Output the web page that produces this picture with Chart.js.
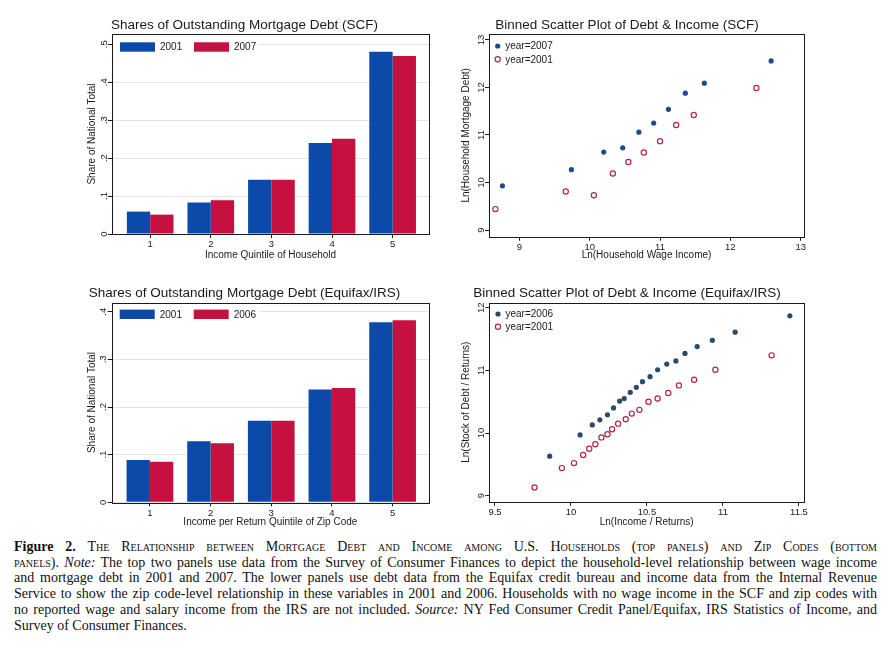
<!DOCTYPE html>
<html>
<head>
<meta charset="utf-8">
<script src="https://cdn.jsdelivr.net/npm/chart.js@4.4.0/dist/chart.umd.min.js"></script>
<style>
  body { margin: 0; background: #fff; width: 889px; height: 648px; overflow: hidden; position: relative; }
  canvas.panel { position: absolute; }
  #caption { position: absolute; left: 14px; top: 539px; width: 863px; color: #111;
    font: 14px/15.7px "Liberation Serif", "Times New Roman", serif; }
  #caption div { text-align: justify; text-align-last: justify; }
  #caption div.last { text-align-last: left; }
  .sc { font-variant: small-caps; }
</style>
</head>
<body>
<canvas class="panel" id="scf-bars" width="380" height="260" style="left:60px;top:10px"></canvas>
<canvas class="panel" id="scf-scatter" width="370" height="260" style="left:450px;top:10px"></canvas>
<canvas class="panel" id="zip-bars" width="380" height="250" style="left:60px;top:280px"></canvas>
<canvas class="panel" id="zip-scatter" width="370" height="250" style="left:450px;top:280px"></canvas>

<div id="caption">
  <div><b>Figure 2.</b> <span class="sc">The Relationship between Mortgage Debt and Income among U.S. Households (top panels) and Zip Codes (bottom</span></div>
  <div><span class="sc">panels)</span>. <i>Note:</i> The top two panels use data from the Survey of Consumer Finances to depict the household-level relationship between wage income</div>
  <div>and mortgage debt in 2001 and 2007. The lower panels use debt data from the Equifax credit bureau and income data from the Internal Revenue</div>
  <div>Service to show the zip code-level relationship in these variables in 2001 and 2006. Households with no wage income in the SCF and zip codes with</div>
  <div>no reported wage and salary income from the IRS are not included. <i>Source:</i> NY Fed Consumer Credit Panel/Equifax, IRS Statistics of Income, and</div>
  <div class="last">Survey of Consumer Finances.</div>
</div>

<script>
// quintile bars
const quintiles = [1, 2, 3, 4, 5];
const scfShare2001 = [0.059, 0.083, 0.143, 0.240, 0.480];
const scfShare2007 = [0.051, 0.089, 0.143, 0.251, 0.469];
const scfShareTicks = [0, 0.1, 0.2, 0.3, 0.4, 0.5];

const zipShare2001 = [0.089, 0.128, 0.171, 0.237, 0.378];
const zipShare2006 = [0.085, 0.124, 0.171, 0.240, 0.382];
const zipShareTicks = [0, 0.1, 0.2, 0.3, 0.4];

// binned scatter, SCF households
const scfIncome2007 = [8.76, 9.74, 10.20, 10.47, 10.70, 10.91, 11.12, 11.36, 11.63, 12.58];
const scfDebt2007   = [9.93, 10.27, 10.64, 10.73, 11.06, 11.25, 11.54, 11.88, 12.09, 12.56];
const scfIncome2001 = [8.66, 9.66, 10.06, 10.33, 10.55, 10.77, 11.00, 11.23, 11.48, 12.37];
const scfDebt2001   = [9.44, 9.81, 9.73, 10.19, 10.43, 10.63, 10.87, 11.21, 11.42, 11.99];
const scfIncomeTicks = [9, 10, 11, 12, 13];
const scfDebtTicks = [9, 10, 11, 12, 13];

// binned scatter, zip codes
const zipIncome2006 = [9.86, 10.06, 10.14, 10.19, 10.24, 10.28, 10.32, 10.35, 10.39, 10.43,
                       10.47, 10.52, 10.57, 10.63, 10.69, 10.75, 10.83, 10.93, 11.08, 11.44];
const zipDebt2006   = [9.63, 9.97, 10.13, 10.21, 10.29, 10.40, 10.51, 10.55, 10.65, 10.73,
                       10.82, 10.90, 11.01, 11.10, 11.15, 11.27, 11.38, 11.48, 11.61, 11.87];
const zipIncome2001 = [9.76, 9.94, 10.02, 10.08, 10.12, 10.16, 10.20, 10.24, 10.27, 10.31,
                       10.36, 10.40, 10.45, 10.51, 10.57, 10.64, 10.71, 10.81, 10.95, 11.32];
const zipDebt2001   = [9.13, 9.44, 9.52, 9.65, 9.75, 9.82, 9.93, 9.98, 10.06, 10.15,
                       10.22, 10.31, 10.37, 10.50, 10.55, 10.64, 10.76, 10.85, 11.01, 11.24];
const zipIncomeTicks = [9.5, 10, 10.5, 11, 11.5];
const zipDebtTicks = [9, 10, 11, 12];

const FONT = '"Liberation Sans", Arial, sans-serif';
const INK = '#1a1a1a';
const BLUE = '#0b4aa8';
const RED = '#c6103f';

// Stata style labels: .1 instead of 0.1
const stataNum = (v) => {
  const s = String(Number(v.toFixed(2)));
  return s.startsWith('0.') ? s.slice(1) : s;
};

const zip = (xs, ys) => xs.map((x, i) => ({ x, y: ys[i] }));

// box around the plot region
const frame = {
  id: 'frame',
  afterDraw(chart) {
    const { ctx, chartArea: a } = chart;
    ctx.save();
    ctx.strokeStyle = INK;
    ctx.lineWidth = 1;
    ctx.strokeRect(Math.round(a.left) + 0.5, Math.round(a.top) + 0.5,
      Math.round(a.right - a.left), Math.round(a.bottom - a.top));
    ctx.restore();
  },
};

// y tick labels turned upright, the way Stata prints them
const uprightYLabels = {
  id: 'uprightYLabels',
  afterDraw(chart) {
    const { ctx } = chart;
    const s = chart.scales.y;
    ctx.save();
    ctx.fillStyle = INK;
    ctx.font = '9.5px ' + FONT;
    ctx.textAlign = 'center';
    ctx.textBaseline = 'alphabetic';
    s.ticks.forEach((t) => {
      ctx.save();
      ctx.translate(s.right - 5.5, s.getPixelForValue(t.value));
      ctx.rotate(-Math.PI / 2);
      ctx.fillText(stataNum(t.value), 0, 0);
      ctx.restore();
    });
    ctx.restore();
  },
};

// legend sitting inside the plot, top left
const insetLegend = {
  id: 'insetLegend',
  afterDatasetsDraw(chart, args, opts) {
    const { ctx, chartArea: a } = chart;
    ctx.save();
    if (opts.cover) {
      ctx.fillStyle = '#fff';
      ctx.fillRect(a.left + 1, a.top + 2, opts.cover, 20);
    }
    ctx.font = '10px ' + FONT;
    ctx.textBaseline = 'middle';
    chart.data.datasets.forEach((ds, i) => {
      const x = a.left + opts.x + i * opts.dx;
      const y = a.top + opts.y + i * opts.dy;
      let tx;
      if (opts.kind === 'bar') {
        ctx.fillStyle = ds.backgroundColor;
        ctx.fillRect(x, y - 4.7, 35, 9.4);
        tx = x + 40;
      } else {
        ctx.beginPath();
        ctx.arc(x, y, ds.pointRadius, 0, Math.PI * 2);
        ctx.fillStyle = ds.backgroundColor;
        ctx.fill();
        if (ds.borderWidth) {
          ctx.lineWidth = ds.borderWidth;
          ctx.strokeStyle = ds.borderColor;
          ctx.stroke();
        }
        tx = x + 7.5;
      }
      ctx.fillStyle = INK;
      ctx.fillText(ds.label, tx, y + 0.5);
    });
    ctx.restore();
  },
};

function axisTitle(text, padding) {
  return { display: true, text, color: INK, font: { family: FONT, size: 10 }, padding };
}

function fixedTicks(values) {
  return (s) => { s.ticks = values.map((value) => ({ value })); };
}

function makeChart(id, cfg) {
  const isBar = cfg.type === 'bar';
  new Chart(document.getElementById(id), {
    type: cfg.type,
    data: { datasets: cfg.datasets },
    options: {
      responsive: false,
      animation: false,
      layout: { padding: { left: 0, top: 0, right: cfg.padRight, bottom: 0 } },
      plugins: {
        legend: { display: false },
        tooltip: { enabled: false },
        title: {
          display: true, text: cfg.title, color: INK,
          font: { family: FONT, size: 13.5, weight: 'normal', lineHeight: 1.2 },
          padding: cfg.titlePad,
        },
        insetLegend: cfg.legend,
      },
      scales: {
        x: {
          type: 'linear', min: cfg.xMin, max: cfg.xMax, offset: false,
          afterBuildTicks: fixedTicks(cfg.xTicks),
          afterFit: (s) => { s.height = cfg.xHeight; },
          border: { display: false },
          grid: { drawOnChartArea: false, tickLength: 4, tickColor: INK, offset: false },
          ticks: { color: INK, padding: 1, font: { family: FONT, size: 9.5 },
                   maxRotation: 0, callback: (v) => stataNum(v) },
          title: axisTitle(cfg.xTitle, { top: 0, bottom: cfg.xTitlePad }),
        },
        y: {
          type: 'linear', min: cfg.yMin, max: cfg.yMax,
          afterBuildTicks: fixedTicks(cfg.yTicks),
          afterFit: (s) => { s.width = cfg.yWidth; },
          border: { display: false },
          grid: { drawOnChartArea: isBar, color: '#e4e4e4', tickLength: 4, tickColor: INK },
          ticks: { display: false },
          title: axisTitle(cfg.yTitle, { top: cfg.yTitlePad, bottom: 0 }),
        },
      },
    },
    plugins: [insetLegend, uprightYLabels, frame],
  });
}

function bars(label, values, color) {
  return {
    label, data: zip(quintiles, values), backgroundColor: color, borderWidth: 0,
    categoryPercentage: 0.77, barPercentage: 1,
  };
}

function dots(label, xs, ys, filled, color) {
  return {
    label, data: zip(xs, ys), pointStyle: 'circle', pointRadius: 2.6,
    backgroundColor: filled ? color : '#fff',
    borderColor: color, borderWidth: filled ? 0 : 1.2,
  };
}

makeChart('scf-bars', {
  type: 'bar',
  title: 'Shares of Outstanding Mortgage Debt (SCF)',
  titlePad: { top: 6.9, bottom: 0.9 },
  datasets: [bars('2001', scfShare2001, BLUE), bars('2007', scfShare2007, RED)],
  xMin: 0.37, xMax: 5.6, xTicks: quintiles, xHeight: 36,
  xTitle: 'Income Quintile of Household', xTitlePad: 9,
  yMin: 0, yMax: 0.527, yTicks: scfShareTicks, yWidth: 52,
  yTitle: 'Share of National Total', yTitlePad: 26.3,
  padRight: 11,
  legend: { kind: 'bar', x: 8, y: 13, dx: 74, dy: 0, cover: 146 },
});

makeChart('scf-scatter', {
  type: 'scatter',
  title: 'Binned Scatter Plot of Debt & Income (SCF)',
  titlePad: { top: 6.9, bottom: 0.9 },
  datasets: [
    dots('year=2007', scfIncome2007, scfDebt2007, true, '#1c4a8c'),
    dots('year=2001', scfIncome2001, scfDebt2001, false, '#b8234b'),
  ],
  xMin: 8.569, xMax: 13.047, xTicks: scfIncomeTicks, xHeight: 33.3,
  xTitle: 'Ln(Household Wage Income)', xTitlePad: 8.3,
  yMin: 8.859, yMax: 13.126, yTicks: scfDebtTicks, yWidth: 39,
  yTitle: 'Ln(Household Mortgage Debt)', yTitlePad: 10.7,
  padRight: 16,
  legend: { kind: 'dot', x: 8.7, y: 12, dx: 0, dy: 13.3 },
});

makeChart('zip-bars', {
  type: 'bar',
  title: 'Shares of Outstanding Mortgage Debt (Equifax/IRS)',
  titlePad: { top: 4.9, bottom: 1.6 },
  datasets: [bars('2001', zipShare2001, BLUE), bars('2006', zipShare2006, RED)],
  xMin: 0.37, xMax: 5.6, xTicks: quintiles, xHeight: 27.7,
  xTitle: 'Income per Return Quintile of Zip Code', xTitlePad: 1.3,
  yMin: 0, yMax: 0.419, yTicks: zipShareTicks, yWidth: 51.7,
  yTitle: 'Share of National Total', yTitlePad: 26.3,
  padRight: 11,
  legend: { kind: 'bar', x: 8, y: 11.6, dx: 74, dy: 0, cover: 146 },
});

makeChart('zip-scatter', {
  type: 'scatter',
  title: 'Binned Scatter Plot of Debt & Income (Equifax/IRS)',
  titlePad: { top: 4.9, bottom: 1.6 },
  datasets: [
    dots('year=2006', zipIncome2006, zipDebt2006, true, '#2a4a6a'),
    dots('year=2001', zipIncome2001, zipDebt2001, false, '#b8234b'),
  ],
  xMin: 9.4625, xMax: 11.533, xTicks: zipIncomeTicks, xHeight: 28.3,
  xTitle: 'Ln(Income / Returns)', xTitlePad: 1.3,
  yMin: 8.904, yMax: 12.08, yTicks: zipDebtTicks, yWidth: 39.3,
  yTitle: 'Ln(Stock of Debt / Returns)', yTitlePad: 10.7,
  padRight: 16,
  legend: { kind: 'dot', x: 8.7, y: 11.3, dx: 0, dy: 12.7 },
});
</script>
</body>
</html>
